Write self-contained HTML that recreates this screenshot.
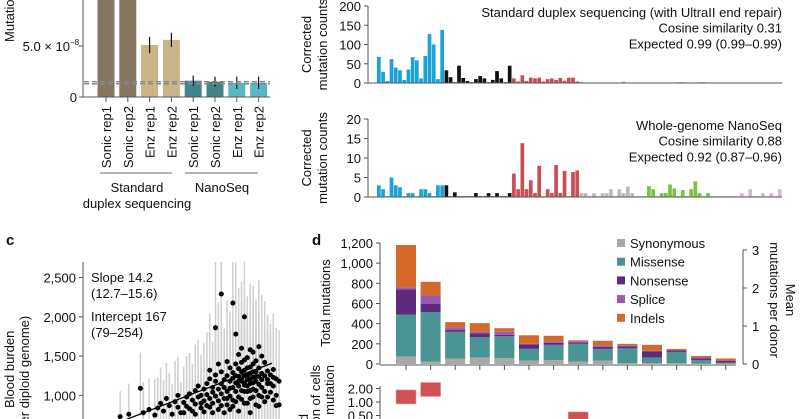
<!DOCTYPE html>
<html><head><meta charset="utf-8">
<style>
html,body{margin:0;padding:0;background:#fff;overflow:hidden;}
svg{display:block;font-family:"Liberation Sans",Arial,sans-serif;}
text{fill:#111;}
</style></head>
<body>
<svg id="fig" width="800" height="419" viewBox="0 0 800 419" xmlns="http://www.w3.org/2000/svg">
<g id="pa"></g>
<g id="pb"></g>
<g id="pc"></g>
<g id="pd"></g>
</svg>
<script>
// ---------- Panel a data ----------
const aCats = ["Sonic rep1","Sonic rep2","Enz rep1","Enz rep2","Sonic rep1","Sonic rep2","Enz rep1","Enz rep2"];
const aVals = [1.2e-7,1.2e-7,5.1e-8,5.6e-8,1.6e-8,1.5e-8,1.4e-8,1.4e-8];
const aErr  = [0,0,0.8e-8,0.7e-8,0.5e-8,0.5e-8,0.6e-8,0.6e-8];
const aColors = ["#857660","#857660","#c9b48a","#c9b48a","#3f8589","#3f8589","#5ab8c4","#5ab8c4"];
const aRef = [1.3e-8,1.5e-8];
// ---------- Panel b data ----------
const bTopTicks = [0,50,100,150,200];
const bBotTicks = [0,5,10,15,20];
const bColors = ["#1ba2d6","#111111","#cc4d55","#b8bcbc","#7cc142","#d8b4d8"];
const bTopCA=[68,29,5,62,40,33,8,35,67,59,12,70,127,100,10,138];
const bTopCG=[33,15,0,45,13,5,0,10,18,12,0,8,31,12,0,45];
const bTopCT=[12,4,20,5,14,12,14,4,10,12,8,13,6,14,14,4];
const bTopTA=[3,1,1,1,1,1,1,1,1,1,4,1,1,1,1,1];
const bTopTC=[1,1,1,1,1,1,1,2,2,1,1,1,2,2,1,1];
const bTopTG=[1,1,1,1,1,1,1,1,1,1,1,1,1,1,1,1];
const bBotCA=[3,2,0,5,3,2.5,0,1,1,0,2,2,1,0,3,3];
const bBotCG=[3,0,1.2,0,0,0,0,1,0,0,1,0,1,0,0,1];
const bBotCT=[6,2,13.8,2,4.3,1,8,0,2,1,8.2,1,6.7,0,6.4,6.8];
const bBotTA=[1,1,0,1,0,1,1,2,0,2,1,2.7,1,0,0,0];
const bBotTC=[2.8,2,0,1,1,3.2,2.2,0,1.8,0,2,4,1,0,1,0];
const bBotTG=[0,0,0,0,0,0,1,0,2,0,0,1,0,1,0,2];
// ---------- Panel c data ----------
const cTicks=[1000,1500,2000,2500];
const cSlope=14.2, cIntercept=167;
const cPts=[[35,730,250],[38,760,300],[42,1090,350],[43,780,300],[45,820,300],[47,750,350],[48,840,300],[49,900,350],[50,800,300],[51,960,350],[52,870,320],[53,760,300],[54,920,400],[55,850,350],[55,1000,380],[56,780,300],[57,910,350],[58,980,400],[58,860,300],[59,1020,400],[60,800,320],[60,940,350],[61,1060,450],[61,890,350],[62,980,400],[62,1120,450],[63,840,350],[63,1000,400],[64,1080,450],[64,930,350],[65,1150,500],[65,870,350],[65,1010,400],[66,1210,500],[66,960,400],[66,1320,550],[67,1100,450],[67,900,350],[67,1040,400],[68,1860,700],[68,1180,500],[68,990,400],[68,1260,500],[69,1080,450],[69,930,350],[69,1400,600],[70,2290,800],[70,1150,500],[70,1020,450],[70,1300,550],[71,1200,500],[71,960,400],[71,1100,450],[72,1430,600],[72,1250,500],[72,1050,450],[72,880,350],[73,1180,500],[73,1350,550],[73,990,400],[74,2175,800],[74,1220,500],[74,1100,450],[74,1290,550],[74,940,400],[75,1780,700],[75,1160,500],[75,1400,600],[75,1050,450],[76,1240,500],[76,1520,650],[76,1120,450],[76,980,400],[77,1300,550],[77,1180,500],[77,1600,650],[77,1060,450],[78,2000,750],[78,1250,500],[78,1450,600],[78,1130,450],[78,900,350],[79,1200,500],[79,1350,550],[79,1050,450],[80,1580,650],[80,1280,550],[80,1150,500],[80,960,400],[81,1230,500],[81,1400,600],[81,1080,450],[82,1300,550],[82,1180,500],[82,880,350],[83,1620,650],[83,1240,500],[83,1000,450],[84,1500,600],[84,1100,450],[85,1420,600],[85,920,400],[86,1200,500],[86,1310,550],[87,1150,500],[88,1230,500],[88,940,400],[89,870,350],
[57,780,300],[59,830,300],[61,760,300],[63,900,350],[64,790,300],[66,850,350],[67,780,300],[69,820,350],[70,870,350],[71,780,300],[72,960,400],[73,820,350],[73,1090,450],[74,860,350],[75,1250,500],[75,920,400],[76,1340,550],[76,1180,500],[76,800,350],[77,1420,600],[77,1210,500],[77,950,400],[78,1320,550],[78,1160,500],[78,1050,450],[79,1480,600],[79,1260,550],[79,1120,450],[79,900,350],[80,1360,550],[80,1210,500],[80,1060,450],[80,780,300],[81,1550,650],[81,1300,550],[81,1160,500],[81,980,400],[82,1440,600],[82,1240,500],[82,1060,450],[83,1350,550],[83,1140,500],[83,860,350],[84,1280,550],[84,1200,500],[84,980,400],[85,1250,500],[85,1050,450],[86,1150,500],[86,980,400],[87,1260,500],[87,1040,450],[88,1330,550],[88,1120,450],[89,1210,500],[89,1000,400],[90,1180,500],[90,880,350]];
// ---------- Panel d data ----------
const dSeries=["Synonymous","Missense","Nonsense","Splice","Indels"];
const dColors=["#a8a8a8","#4a9494","#5e2a7e","#9a5ab0","#d4692a"];
const dSyn=[75,25,55,65,60,35,40,25,35,10,10,10,5,5];
const dMis=[415,490,265,200,215,115,150,175,115,145,55,110,35,10];
const dNon=[250,80,20,40,15,45,20,15,20,20,60,15,15,15];
const dSpl=[20,85,25,15,30,5,15,10,15,10,5,5,10,5];
const dInd=[420,135,50,85,35,85,55,10,45,15,60,10,15,20];
const dTicks=[0,200,400,600,800,1000,1200];
const dTicksR=[0,1,2,3];
const dFrac=[1.3,1.9,null,null,null,null,null,0.42,null,null,null,null,null,null];
const dFracTicks=[2.00,1.00,0.50];

const FS=13;
const NS="http://www.w3.org/2000/svg";
function mk(parent,tag,attrs,txt){const e=document.createElementNS(NS,tag);for(const k in attrs)e.setAttribute(k,attrs[k]);if(txt!==undefined)e.textContent=txt;parent.appendChild(e);return e;}

// ===== Panel a =====
(function(){
  const g=document.getElementById('pa');
  const y=v=>97-v*(51/5e-8);
  const x=i=>106+i*21.8;
  const clip=mk(g,'clipPath',{id:'aclip'});mk(clip,'rect',{x:80,y:0,width:200,height:98});
  const bars=mk(g,'g',{'clip-path':'url(#aclip)'});
  aVals.forEach((v,i)=>{
    const r=mk(bars,'rect',{x:x(i)-8.5,y:y(v),width:17,height:97-y(v),fill:aColors[i]});
    
    
    if(aErr[i]>0){const l=mk(bars,'line',{x1:x(i),x2:x(i),y1:y(v-aErr[i]),y2:y(v+aErr[i]),stroke:'#111','stroke-width':1.2});
      }
  });
  aRef.forEach(v=>{const l=mk(g,'line',{x1:84,x2:270,y1:y(v),y2:y(v),stroke:'#888','stroke-width':1.4,'stroke-dasharray':'5,3'});
    });
  mk(g,'line',{x1:83,x2:83,y1:0,y2:97,stroke:'#555'});
  mk(g,'line',{x1:83,x2:270,y1:97,y2:97,stroke:'#555'});
  [[0,'0'],[5e-8,'5.0 × 10']].forEach(t=>{
    mk(g,'line',{x1:79,x2:83,y1:y(t[0]),y2:y(t[0]),stroke:'#555'});
    const tx=mk(g,'text',{x:t[0]?70:77,y:y(t[0])+5,'text-anchor':'end','font-size':FS},t[1]);
    
    if(t[0])mk(g,'text',{x:70,y:y(t[0])-1,'font-size':8},'−8');
  });
  aCats.forEach((c,i)=>{mk(g,'line',{x1:x(i),x2:x(i),y1:97,y2:102,stroke:'#555'});
    const t=mk(g,'text',{transform:`translate(${x(i)+5},106) rotate(-90)`,'text-anchor':'end','font-size':FS},c);
    });
  mk(g,'line',{x1:100,x2:172,y1:173,y2:173,stroke:'#888','stroke-width':1.2});
  mk(g,'line',{x1:185,x2:258,y1:173,y2:173,stroke:'#888','stroke-width':1.2});
  let t=mk(g,'text',{x:137,y:192,'text-anchor':'middle','font-size':FS},'Standard');
  mk(g,'text',{x:137,y:208,'text-anchor':'middle','font-size':FS},'duplex sequencing');
  t=mk(g,'text',{x:222,y:192,'text-anchor':'middle','font-size':FS},'NanoSeq');
  t=mk(g,'text',{transform:'translate(14,42) rotate(-90)','font-size':FS},'Mutation');
})();

// ===== Panel b =====
(function(){
  const g=document.getElementById('pb');
  function chart(y0,h,max,ticks,groups,lines,nm){
    const y=v=>y0-v*h/max;
    const x=i=>377+i*4.22;
    const cg=mk(g,'g',{});
    groups.forEach((arr,gi)=>arr.forEach((v,j)=>{const i=gi*16+j;
      const r=mk(cg,'rect',{x:x(i),y:y(v)-(v>0?0:0.8),width:3.7,height:Math.max(0.8,y0-y(v)),fill:bColors[gi]});
      }));
    mk(g,'line',{x1:368,x2:368,y1:y(max),y2:y0,stroke:'#555'});
    mk(g,'line',{x1:368,x2:782,y1:y0,y2:y0,stroke:'#555'});
    ticks.forEach(t=>{mk(g,'line',{x1:364,x2:368,y1:y(t),y2:y(t),stroke:'#555'});
      const tx=mk(g,'text',{x:361,y:y(t)+5,'text-anchor':'end','font-size':FS},t);});
    lines.forEach((s,k)=>{const tx=mk(g,'text',{x:782,y:y(max)+11+k*15.7,'text-anchor':'end','font-size':FS},s);});
    const mid=y0-h/2;
    let t=mk(g,'text',{transform:`translate(311,${mid}) rotate(-90)`,'text-anchor':'middle','font-size':FS},'Corrected');
    mk(g,'text',{transform:`translate(327,${mid}) rotate(-90)`,'text-anchor':'middle','font-size':FS},'mutation counts');
  }
  chart(83,77,200,bTopTicks,[bTopCA,bTopCG,bTopCT,bTopTA,bTopTC,bTopTG],["Standard duplex sequencing (with UltraII end repair)","Cosine similarity 0.31","Expected 0.99 (0.99–0.99)"],'standard-duplex-spectrum');
  chart(197,78,20,bBotTicks,[bBotCA,bBotCG,bBotCT,bBotTA,bBotTC,bBotTG],["Whole-genome NanoSeq","Cosine similarity 0.88","Expected 0.92 (0.87–0.96)"],'nanoseq-spectrum');
})();

// ===== Panel c =====
(function(){
  const g=document.getElementById('pc');
  const y=v=>474-v*0.0786;
  const x=a=>19+a*2.89;
  let t=mk(g,'text',{x:6,y:245,'font-size':15,'font-weight':'bold'},'c');
  const clip=mk(g,'clipPath',{id:'cclip'});mk(clip,'rect',{x:84,y:262,width:216,height:160});
  const cg=mk(g,'g',{'clip-path':'url(#cclip)'});
  cPts.forEach(p=>{const l=mk(cg,'line',{x1:x(p[0]),x2:x(p[0]),y1:y(p[1]-p[2]),y2:y(p[1]+p[2]*1.3),stroke:'#cfcfcf','stroke-width':1.5});
    });
  cPts.forEach(p=>{const c=mk(cg,'circle',{cx:x(p[0]),cy:y(p[1]),r:2.5,fill:'#000'});
    });
  const fl=mk(cg,'line',{x1:x(30),y1:y(cIntercept+cSlope*30),x2:x(87.5),y2:y(cIntercept+cSlope*87.5),stroke:'#000','stroke-width':1.3});
  
  mk(g,'line',{x1:83,x2:83,y1:262,y2:419,stroke:'#555'});
  cTicks.forEach(v=>{mk(g,'line',{x1:79,x2:83,y1:y(v),y2:y(v),stroke:'#555'});
    const tx=mk(g,'text',{x:76,y:y(v)+5,'text-anchor':'end','font-size':FS},v.toLocaleString('en-US'));});
  [['Slope 14.2',282],['(12.7–15.6)',298],['Intercept 167',321],['(79–254)',337]].forEach(s=>{const tx=mk(g,'text',{x:91,y:s[1],'font-size':FS},s[0]);});
  t=mk(g,'text',{transform:'translate(14,408) rotate(-90)','font-size':FS},'Blood burden');
  mk(g,'text',{transform:'translate(29,495) rotate(-90)','font-size':FS},'(mutations per diploid genome)');
})();

// ===== Panel d =====
(function(){
  const g=document.getElementById('pd');
  const y=v=>364-v*121/1200;
  const x=i=>406+i*24.6;
  let t=mk(g,'text',{x:312,y:245,'font-size':15,'font-weight':'bold'},'d');
  const series=[dSyn,dMis,dNon,dSpl,dInd];
  dSyn.forEach((_,i)=>{let base=0;
    series.forEach((s,k)=>{const r=mk(g,'rect',{x:x(i)-10,y:y(base+s[i]),width:20,height:y(base)-y(base+s[i]),fill:dColors[k]});
      base+=s[i];});
    mk(g,'line',{x1:x(i),x2:x(i),y1:365,y2:370,stroke:'#555'});
  });
  mk(g,'line',{x1:380,x2:380,y1:243,y2:364,stroke:'#555'});
  mk(g,'line',{x1:380,x2:736,y1:365,y2:365,stroke:'#555'});
  dTicks.forEach(v=>{mk(g,'line',{x1:376,x2:380,y1:y(v),y2:y(v),stroke:'#555'});
    const tx=mk(g,'text',{x:373,y:y(v)+5,'text-anchor':'end','font-size':FS},v.toLocaleString('en-US'));});
  const yr=v=>364-v*38;
  mk(g,'line',{x1:743,x2:743,y1:yr(3),y2:yr(0),stroke:'#555'});
  dTicksR.forEach(v=>{mk(g,'line',{x1:743,x2:747,y1:yr(v),y2:yr(v),stroke:'#555'});
    const tx=mk(g,'text',{x:752,y:yr(v)+5,'font-size':FS},v);});
  t=mk(g,'text',{transform:'translate(330,303) rotate(-90)','text-anchor':'middle','font-size':FS},'Total mutations');
  t=mk(g,'text',{transform:'translate(786,300) rotate(90)','text-anchor':'middle','font-size':FS},'Mean');
  mk(g,'text',{transform:'translate(770,300) rotate(90)','text-anchor':'middle','font-size':FS},'mutations per donor');
  dSeries.forEach((s,k)=>{const yy=243+k*18.7;
    const r=mk(g,'rect',{x:617,y:yy-4,width:8,height:8,fill:dColors[k]});
    const tx=mk(g,'text',{x:630,y:yy+5,'font-size':FS},s);});
  // fraction of cells (log scale)
  const yl=v=>402-Math.log2(v)*13.5;
  mk(g,'line',{x1:380,x2:380,y1:386,y2:419,stroke:'#555'});
  dFracTicks.forEach(v=>{mk(g,'line',{x1:376,x2:380,y1:yl(v),y2:yl(v),stroke:'#555'});
    const tx=mk(g,'text',{x:373,y:yl(v)+5,'text-anchor':'end','font-size':FS},v.toFixed(2));});
  dFrac.forEach((v,i)=>{if(v==null)return;const r=mk(g,'rect',{x:x(i)-10,y:yl(v)-7,width:20,height:14,fill:'#cf5256',stroke:'#e8a0a0','stroke-width':0.6});
    });
  mk(g,'text',{transform:'translate(308,414) rotate(-90)','text-anchor':'end','font-size':FS},'Estimated');
  mk(g,'text',{transform:'translate(320,365) rotate(-90)','text-anchor':'end','font-size':FS},'fraction of cells');
  mk(g,'text',{transform:'translate(334,365) rotate(-90)','text-anchor':'end','font-size':FS},'with mutation');
})();
</script>
</body></html>
